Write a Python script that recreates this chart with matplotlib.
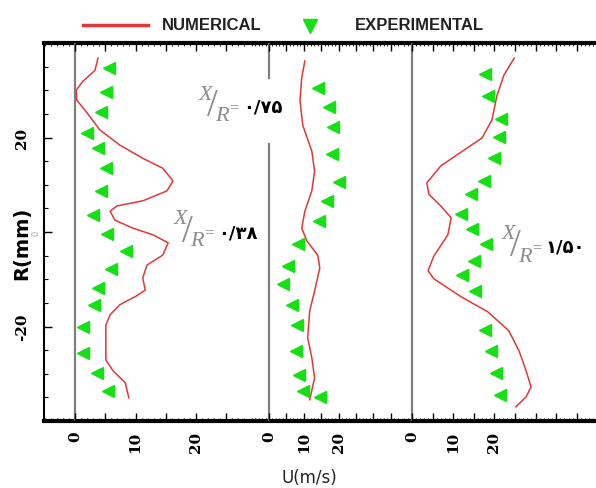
import numpy as np
import matplotlib.pyplot as plt
from matplotlib.lines import Line2D
from matplotlib.ticker import MultipleLocator

W, H = 596, 489

# X/R = 0.38
num1_u = [3.8, 3.3, 1.3, 0.2, 0.3, 2.0, 4.1, 7.4, 11.2, 14.5, 16.2, 15.2, 11.2, 6.9, 5.8, 6.6,
          9.6, 12.9, 15.4, 14.5, 11.9, 11.2, 11.6, 10.2, 7.4, 5.8, 5.1, 5.1, 5.1, 6.3, 8.3, 8.9]
num1_r = [36.8, 34.2, 31.9, 30.0, 27.9, 25.2, 21.6, 18.4, 15.6, 13.5, 10.8, 8.7, 6.6, 5.5, 4.4, 2.5,
          0.8, -0.6, -2.3, -4.9, -7.0, -9.7, -12.3, -13.5, -15.4, -17.5, -19.7, -23.0, -27.1, -29.4, -31.9, -35.1]
exp1_u = [5.6, 5.1, 4.3, 2.0, 3.8, 5.1, 4.3, 3.0, 5.3, 8.4, 6.0, 3.8, 3.1, 1.3, 1.3, 3.6, 5.5]
exp1_r = [34.7, 29.6, 25.4, 20.9, 17.8, 13.5, 8.7, 3.6, -0.4, -4.0, -7.8, -11.8, -15.4, -20.1, -25.6, -29.8, -33.6]

# X/R = 0.75
num2_u = [10.3, 9.4, 8.9, 9.7, 12.3, 13.1, 12.3, 10.3, 9.4, 10.9, 14.0, 14.6, 13.1, 11.7, 11.1, 12.3, 13.1, 11.7]
num2_r = [36.2, 32.6, 27.9, 22.6, 17.1, 12.9, 8.7, 4.4, 0.8, -1.9, -4.9, -7.6, -12.5, -16.7, -22.4, -26.6, -30.9, -35.5]
exp2_u = [14.0, 17.1, 18.3, 18.0, 20.0, 16.6, 14.3, 8.3, 5.4, 4.0, 6.6, 8.0, 7.7, 8.6, 9.7, 14.6]
exp2_r = [30.4, 26.4, 22.2, 16.5, 10.6, 6.6, 2.3, -2.5, -7.2, -11.0, -15.4, -19.7, -25.2, -30.2, -33.6, -34.9]

# X/R = 1.50
num3_u = [24.8, 22.3, 20.6, 19.4, 17.0, 11.9, 7.0, 3.6, 4.1, 7.0, 9.5, 8.7, 5.3, 3.9, 5.3, 11.9,
          18.4, 23.5, 26.0, 27.7, 28.9, 27.7, 25.2]
num3_r = [36.8, 33.2, 28.8, 23.7, 19.9, 16.9, 14.0, 10.4, 8.0, 5.5, 3.0, -0.6, -5.1, -8.2, -9.9, -13.7,
          -16.9, -20.9, -25.2, -29.4, -32.8, -34.9, -37.0]
exp3_u = [17.7, 18.4, 21.6, 21.1, 19.9, 17.5, 14.3, 11.9, 14.6, 18.0, 15.0, 12.1, 15.3, 17.7, 19.2, 20.4, 21.4]
exp3_r = [33.4, 28.8, 23.9, 20.1, 15.6, 10.8, 8.0, 3.8, 0.6, -2.5, -6.1, -9.1, -12.5, -20.7, -25.2, -29.8, -34.5]

xr_values = ['۰/۳۸', '۰/۷۵', '۱/۵۰']
u_labels = ['0', '10', '20']
r_ticks = [-20, 0, 20]

RED = '#e03838'
GREEN = '#14e014'
GRAY = '#7f7f7f'

fig = plt.figure(figsize=(W / 100, H / 100), dpi=100)

top_px, bot_px = 44, 422
bottom = 1 - bot_px / H
height = (bot_px - top_px) / H

# outer frame carrying the R axis
frame = fig.add_axes([44 / W, bottom, 1 - 44 / W, height])
frame.set_ylim(-40, 40)
frame.set_xlim(0, 1)
frame.set_xticks([])
frame.set_yticks(r_ticks)
# the "0" label is a small faint mark close to the spine, drawn separately below
frame.set_yticklabels([str(t) if t != 0 else '' for t in r_ticks], rotation=90, va='center',
                      family='DejaVu Serif', fontweight='bold', fontsize=11)
frame.yaxis.set_minor_locator(MultipleLocator(5))
frame.tick_params(axis='y', which='major', direction='in', length=6, width=1, pad=11)
frame.tick_params(axis='y', which='minor', direction='in', length=3, width=0.8)
frame.spines['right'].set_visible(False)
frame.spines['left'].set_linewidth(1.5)
frame.spines['top'].set_linewidth(3)
frame.spines['bottom'].set_linewidth(3)
frame.annotate('0', xy=(0, 0), xycoords=('axes fraction', 'data'), xytext=(-6, 0),
               textcoords='offset points', rotation=90, ha='center', va='center',
               fontsize=6, color='#aaaaaa')

panels = [
    (num1_u, num1_r, exp1_u, exp1_r, (44, 250), 75, 6.05),
    (num2_u, num2_r, exp2_u, exp2_r, (250, 400), 269, 3.48),
    (num3_u, num3_r, exp3_u, exp3_r, (400, 596), 412, 4.12),
]

for i, (nu, nr, eu, er, (x0, x1), zero, scale) in enumerate(panels):
    ax = fig.add_axes([x0 / W, bottom, (x1 - x0) / W, height])
    ax.patch.set_visible(False)
    for s in ax.spines.values():
        s.set_visible(False)
    lo, hi = (x0 - zero) / scale, (x1 - zero) / scale
    ax.set_xlim(lo, hi)
    ax.set_ylim(-40, 40)
    if i == 1:
        # line is hidden behind the X/R label
        ax.axvline(0, 0, 0.733, color=GRAY, lw=1.6, zorder=0)
        ax.axvline(0, 0.907, 1, color=GRAY, lw=1.6, zorder=0)
    else:
        ax.axvline(0, color=GRAY, lw=1.6, zorder=0)
    ax.plot(nu, nr, color=RED, lw=1.1)
    ax.plot(eu, er, ls='none', marker='<', ms=8.5, color=GREEN, mec=GREEN)
    ticks = np.arange(0, hi, 5)
    ax.set_xticks(ticks)
    ax.set_xticklabels([str(int(t)) if str(int(t)) in u_labels else '' for t in ticks],
                       family='DejaVu Serif', fontweight='bold', fontsize=11)
    ax.xaxis.set_minor_locator(MultipleLocator(1))
    ax.tick_params(axis='x', which='major', direction='in', top=True, bottom=True,
                   length=6, width=1, labelrotation=90, pad=7)
    ax.tick_params(axis='x', which='minor', direction='in', top=True, bottom=True,
                   length=2.5, width=0.6)
    ax.tick_params(axis='y', left=False, labelleft=False)


def xr_label(x, y, value):
    # x, y: centre of the "X", pixels from the top left corner
    g = dict(family='Liberation Serif', color='#8c8c8c', ha='center', va='center')
    fig.text(x / W, 1 - y / H, 'X', fontsize=16, style='italic', **g)
    fig.text((x + 6) / W, 1 - (y + 12) / H, '/', fontsize=28, **g)
    fig.text((x + 16) / W, 1 - (y + 22) / H, 'R', fontsize=16, style='italic', **g)
    fig.text((x + 28) / W, 1 - (y + 13) / H, '=', fontsize=12, **g)
    fig.text((x + 37) / W, 1 - (y + 13) / H, value, fontsize=13, family='DejaVu Sans',
             fontweight='bold', ha='left', va='center', color='black')


xr_label(181, 220, xr_values[0])
xr_label(206, 95, xr_values[1])
xr_label(509, 235, xr_values[2])

# legend along the top
fig.add_artist(Line2D([83 / W, 148 / W], [1 - 26 / H] * 2, color=RED, lw=2.5))
fig.add_artist(Line2D([310 / W], [1 - 27 / H], ls='none', marker='v', ms=10,
                      color=GREEN, mec=GREEN))
leg = dict(family='Liberation Sans', fontweight='bold',
           fontsize=12, color='#222222', va='center', ha='left')
fig.text(162 / W, 1 - 25 / H, 'NUMERICAL', **leg)
fig.text(355 / W, 1 - 25 / H, 'EXPERIMENTAL', **leg)

fig.text(22 / W, 1 - 243 / H, 'R(mm)', rotation=90, ha='center', va='center',
         fontsize=14, fontweight='bold', family='DejaVu Sans')
fig.text(309 / W, 1 - 478 / H, 'U(m/s)', ha='center', va='center', fontsize=12,
         family='DejaVu Sans', color='#222222')

fig.savefig('out.png', dpi=100)
